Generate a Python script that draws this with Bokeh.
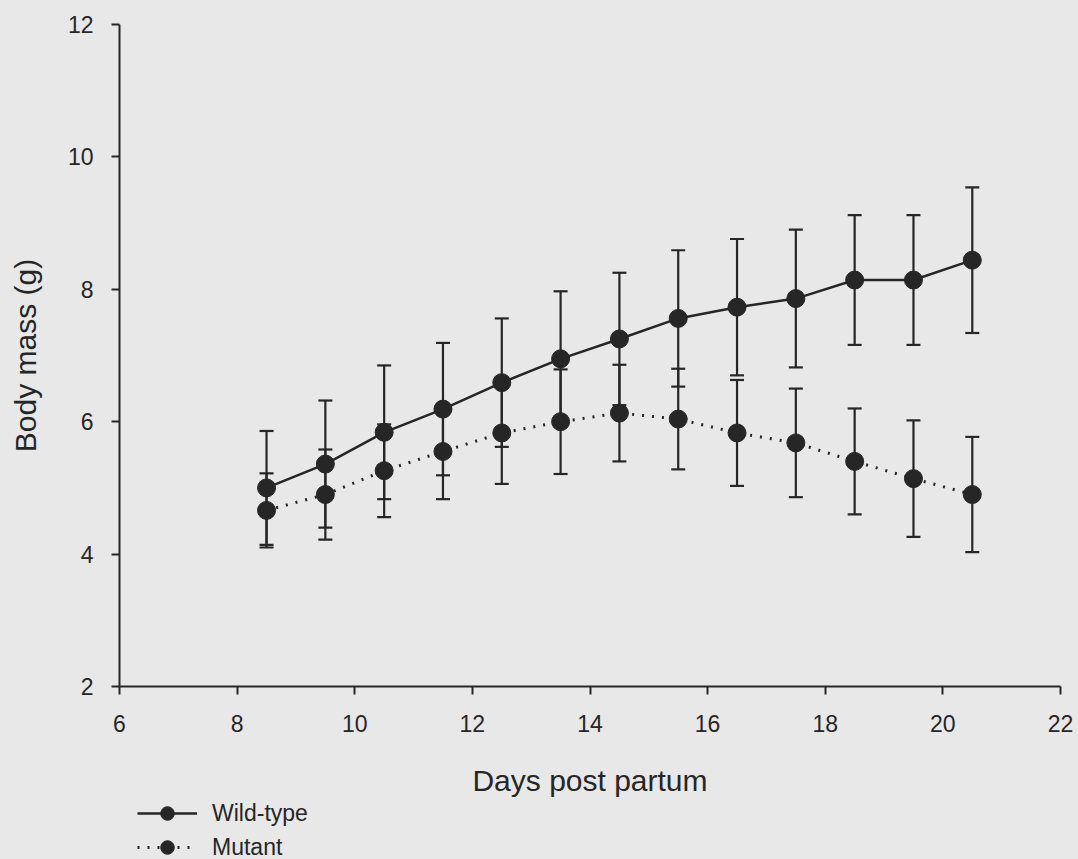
from bokeh.plotting import figure
from bokeh.layouts import column
from bokeh.models import (ColumnDataSource, Whisker, TeeHead, Legend, LegendItem,
                          Range1d, FixedTicker)
from bokeh.embed import file_html
from bokeh.resources import INLINE

# ---- data ----
days = [8.5, 9.5, 10.5, 11.5, 12.5, 13.5, 14.5, 15.5, 16.5, 17.5, 18.5, 19.5, 20.5]
wt_mean = [5.00, 5.36, 5.84, 6.19, 6.59, 6.95, 7.25, 7.56, 7.73, 7.86, 8.14, 8.14, 8.44]
wt_err = [0.86, 0.96, 1.01, 1.00, 0.97, 1.02, 1.00, 1.03, 1.03, 1.04, 0.98, 0.98, 1.10]
mut_mean = [4.66, 4.90, 5.26, 5.55, 5.83, 6.00, 6.13, 6.04, 5.83, 5.68, 5.40, 5.14, 4.90]
mut_err = [0.56, 0.68, 0.70, 0.72, 0.77, 0.79, 0.73, 0.76, 0.80, 0.82, 0.80, 0.88, 0.87]
x_ticks = [6, 8, 10, 12, 14, 16, 18, 20, 22]
y_ticks = [2, 4, 6, 8, 10, 12]
series_labels = ["Wild-type", "Mutant"]

BG = "#e8e8e8"
INK = "#262626"
FONT = "Liberation Sans"

wt_src = ColumnDataSource(dict(
    x=days, y=wt_mean,
    upper=[m + e for m, e in zip(wt_mean, wt_err)],
    lower=[m - e for m, e in zip(wt_mean, wt_err)]))
mut_src = ColumnDataSource(dict(
    x=days, y=mut_mean,
    upper=[m + e for m, e in zip(mut_mean, mut_err)],
    lower=[m - e for m, e in zip(mut_mean, mut_err)]))

p = figure(width=1078, height=799, output_backend="svg",
           toolbar_location=None,
           x_range=Range1d(6, 22), y_range=Range1d(2, 12),
           min_border_left=119, min_border_right=18, min_border_top=24,
           min_border_bottom=0,
           background_fill_color=BG, border_fill_color=BG,
           outline_line_color=None)
p.grid.visible = False

for src in (wt_src, mut_src):
    w = Whisker(source=src, base="x", upper="upper", lower="lower",
                line_color=INK, line_width=2.2, level="underlay",
                upper_head=TeeHead(size=14, line_color=INK, line_width=2.2),
                lower_head=TeeHead(size=14, line_color=INK, line_width=2.2))
    p.add_layout(w)

LINE_STYLES = [dict(line_color=INK, line_width=2.5),
               dict(line_color=INK, line_width=3, line_dash="2 8")]
MARK_STYLE = dict(size=18, marker="circle", fill_color=INK, line_color=INK)

for src, st in zip((wt_src, mut_src), LINE_STYLES):
    p.line("x", "y", source=src, **st)
    p.scatter("x", "y", source=src, **MARK_STYLE)

for ax in (p.xaxis[0], p.yaxis[0]):
    ax.axis_line_color = INK
    ax.axis_line_width = 2
    ax.major_tick_line_color = INK
    ax.major_tick_line_width = 2
    ax.major_tick_in = 0
    ax.major_tick_out = 8
    ax.minor_tick_line_color = None
    ax.major_label_text_font = FONT
    ax.major_label_text_font_size = "23px"
    ax.major_label_text_color = INK
    ax.axis_label_text_font = FONT
    ax.axis_label_text_font_style = "normal"
    ax.axis_label_text_color = INK

p.xaxis.ticker = FixedTicker(ticks=x_ticks)
p.yaxis.ticker = FixedTicker(ticks=y_ticks)
p.xaxis.axis_label = "Days post partum"
p.yaxis.axis_label = "Body mass (g)"
p.xaxis.axis_label_text_font_size = "30px"
p.yaxis.axis_label_text_font_size = "30px"
p.xaxis.major_label_standoff = 20
p.yaxis.major_label_standoff = 18
p.xaxis.axis_label_standoff = 29
p.yaxis.axis_label_standoff = 23

# ---- legend strip below the chart (its sample renderers lie outside its view) ----
lg = figure(width=1078, height=60, output_backend="svg", toolbar_location=None,
            x_range=Range1d(100, 101), y_range=Range1d(100, 101),
            x_axis_type=None, y_axis_type=None,
            min_border=0, background_fill_color=BG, border_fill_color=BG,
            outline_line_color=None)
lg.grid.visible = False
items = []
for src, st, lab in zip((wt_src, mut_src), LINE_STYLES, series_labels):
    r1 = lg.line("x", "y", source=src, **st)
    r2 = lg.scatter("x", "y", source=src, **MARK_STYLE)
    items.append(LegendItem(label=lab, renderers=[r1, r2]))

legend = Legend(items=items, location=(18, -5), orientation="vertical",
                glyph_width=60, glyph_height=34, label_height=34,
                label_standoff=15, spacing=0, padding=0, margin=0,
                label_text_font=FONT, label_text_font_size="23px",
                label_text_color=INK, background_fill_alpha=0,
                border_line_color=None)
lg.add_layout(legend, "center")

layout = column(p, lg, spacing=0, styles={"background-color": BG})
open("out.html", "w").write(file_html(layout, INLINE))
